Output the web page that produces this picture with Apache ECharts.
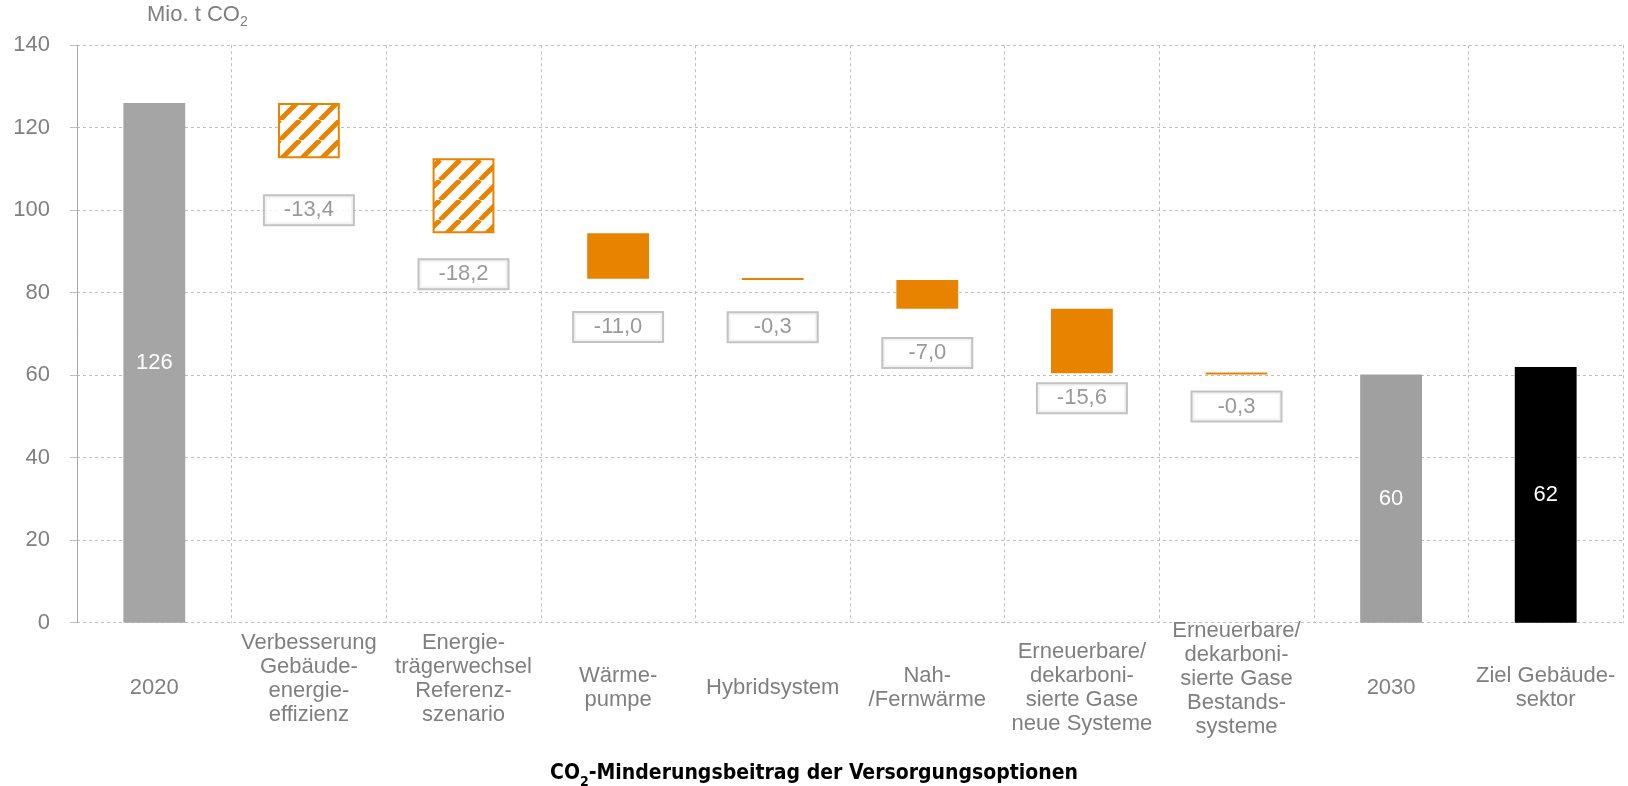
<!DOCTYPE html>
<html><head><meta charset="utf-8">
<script src="https://cdn.jsdelivr.net/npm/echarts@6/dist/echarts.min.js"></script>
<style>html,body{margin:0;padding:0;background:#fff}#c{width:1628px;height:786px}</style>
</head><body><div id="c"></div>
<script>
// ---- data ----
const categories = [
  '2020',
  'Verbesserung\nGebäude-\nenergie-\neffizienz',
  'Energie-\nträgerwechsel\nReferenz-\nszenario',
  'Wärme-\npumpe',
  'Hybridsystem',
  'Nah-\n/Fernwärme',
  'Erneuerbare/\ndekarboni-\nsierte Gase\nneue Systeme',
  'Erneuerbare/\ndekarboni-\nsierte Gase\nBestands-\nsysteme',
  '2030',
  'Ziel Gebäude-\nsektor'
];
const startValue = 126;
const deltas = [-13.4, -18.2, -11.0, -0.3, -7.0, -15.6, -0.3];
const deltaHatched = [true, true, false, false, false, false, false];
const targetValue = 62;
const calloutY = [100.0, 84.5, 71.7, 71.6, 65.4, 54.4, 52.4]; // callout box anchors (data units)
const yMin = 0, yMax = 140, yStep = 20;

// ---- build waterfall ----
const r1 = v => Math.round(v * 10) / 10;
let run = startValue;
const base = [0], heights = [startValue];
deltas.forEach(d => {
  const next = r1(run + d);
  base.push(Math.min(run, next));
  heights.push(Math.abs(d));
  run = next;
});
const endValue = run;
base.push(0, 0);
heights.push(endValue, targetValue);

const FONT = '"Liberation Sans", Arial, sans-serif';
const TITLE_FONT = '"Liberation Sans Narrow", "DejaVu Sans Condensed", "Open Sans", sans-serif';
const GREY_TXT = '#7f7f7f';
const ORANGE = '#e88300';
const FS = 22;
// vertical lift (px) for a few category labels, as in the reference layout
const labelLift = { 1: 17, 2: 17, 7: 14 };

function hatchCanvas() {
  const s = 20, c = document.createElement('canvas');
  c.width = c.height = s;
  const g = c.getContext('2d');
  g.fillStyle = '#fff'; g.fillRect(0, 0, s, s);
  g.strokeStyle = ORANGE; g.lineWidth = 5;
  for (const k of [-1, 0, 1]) {
    g.beginPath(); g.moveTo(k * s, s); g.lineTo(k * s + s, 0); g.stroke();
  }
  return c;
}
const hatch = { image: hatchCanvas(), repeat: 'repeat' };

const totalLabel = { show: true, position: 'inside', color: '#fff', fontSize: FS, fontFamily: FONT,
  formatter: p => String(Math.round(p.value)) };

const valueData = heights.map((h, i) => {
  if (i === 0) return { value: h, itemStyle: { color: '#a5a5a5' }, label: totalLabel };
  if (i === categories.length - 2) return { value: h, itemStyle: { color: '#9fa09f' }, label: totalLabel };
  if (i === categories.length - 1) return { value: h, itemStyle: { color: '#000' }, label: totalLabel };
  const hat = deltaHatched[i - 1];
  return { value: h, itemStyle: hat ? { color: hatch, borderColor: ORANGE, borderWidth: 2 } : { color: ORANGE } };
});

const calloutData = deltas.map((d, i) => [i + 1, calloutY[i], d]);
const fmt = v => v.toFixed(1).replace('.', ',');

const chart = echarts.init(document.getElementById('c'), null, { renderer: 'canvas' });
chart.setOption({
  animation: false,
  backgroundColor: '#fff',
  title: [
    {
      text: '{a|Mio. t CO}{s|2}', left: 147, top: 1, padding: 0,
      textStyle: { fontWeight: 'normal', rich: {
        a: { fontSize: FS, fontWeight: 'normal', color: GREY_TXT, fontFamily: FONT, lineHeight: 28 },
        s: { fontSize: 14, fontWeight: 'normal', color: GREY_TXT, fontFamily: FONT, lineHeight: 14, verticalAlign: 'bottom' }
      } }
    },
    {
      text: '{a|CO}{s|2}{a|-Minderungsbeitrag der Versorgungsoptionen}', left: 'center', top: 759, padding: 0,
      textStyle: { rich: {
        a: { fontSize: 21, fontWeight: 'bold', color: '#000', fontFamily: TITLE_FONT, lineHeight: 30 },
        s: { fontSize: 14, fontWeight: 'bold', color: '#000', fontFamily: TITLE_FONT, lineHeight: 14, verticalAlign: 'bottom' }
      } }
    }
  ],
  grid: { left: 77, right: 5, top: 45.2, bottom: 163.3, outerBoundsMode: 'none', containLabel: false },
  xAxis: {
    type: 'category', data: categories, boundaryGap: true,
    axisLine: { show: false }, axisTick: { show: false },
    axisLabel: { interval: 0, margin: 65, verticalAlign: 'middle', color: GREY_TXT, fontSize: FS,
      fontFamily: FONT, lineHeight: 24, align: 'center', hideOverlap: false,
      formatter: (v, i) => labelLift[i]
        ? v.split('\n').map(l => '{t|' + l + '}').join('\n') + '\n{g|' + ' ' + '}'
        : v.split('\n').map(l => '{t|' + l + '}').join('\n'),
      rich: {
        t: { fontSize: FS, fontFamily: FONT, color: GREY_TXT, lineHeight: 24 },
        g: { fontSize: 4, lineHeight: 17 }
      } },
    splitLine: { show: true, interval: 0, lineStyle: { color: '#bfbfbf', type: [3, 3], width: 1 } }
  },
  yAxis: {
    type: 'value', min: yMin, max: yMax, interval: yStep,
    axisLine: { show: true, lineStyle: { color: '#a6a6a6', width: 1 } },
    axisTick: { show: true, length: 7, lineStyle: { color: '#bfbfbf' } },
    axisLabel: { margin: 27, color: GREY_TXT, fontSize: FS, fontFamily: FONT },
    splitLine: { show: true, lineStyle: { color: '#bfbfbf', type: [3, 3], width: 1 } }
  },
  series: [
    { type: 'bar', stack: 'w', data: base, barWidth: '40%', itemStyle: { color: 'transparent' },
      emphasis: { disabled: true }, silent: true },
    { type: 'bar', stack: 'w', data: valueData, barWidth: '40%', barMinHeight: 2, emphasis: { disabled: true } },
    { type: 'scatter', data: calloutData, symbolSize: 1, itemStyle: { color: 'rgba(0,0,0,0)' }, z: 5,
      label: { show: true, position: 'inside', formatter: p => fmt(p.data[2]), color: GREY_TXT, fontSize: FS,
        fontFamily: FONT, backgroundColor: '#fff', borderColor: '#b3b3b3', borderWidth: 2,
        width: 88, height: 28, lineHeight: 28, align: 'center', verticalAlign: 'middle', padding: 0 } }
  ]
});
</script>
</body></html>
